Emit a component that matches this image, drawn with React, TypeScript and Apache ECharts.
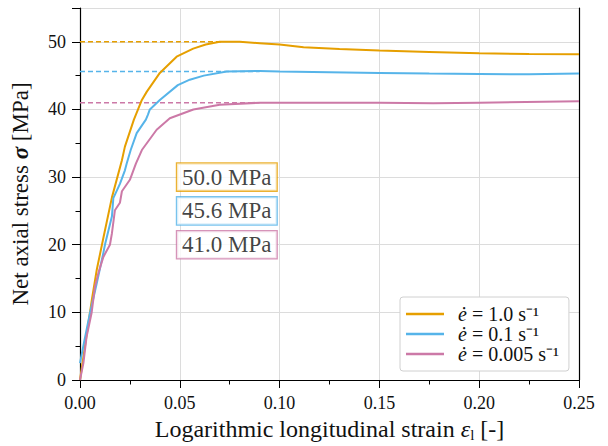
import React, { useEffect, useRef } from "react";
import * as echarts from "echarts";

const seriesNames = ["1.0", "0.1", "0.005"];
const colors = ["#E69F00", "#56B4E9", "#CC79A7"];
const peakStress = [50.0, 45.6, 41.0];
const peakStrain = [0.072, 0.09, 0.09];
const boxLabels = ["50.0 MPa", "45.6 MPa", "41.0 MPa"];
const boxY = [30, 25, 20];
const boxX = 0.0484;

const strainFast = [0, 0.002, 0.004, 0.006, 0.0084, 0.0117, 0.016, 0.021, 0.0225, 0.027, 0.031, 0.0334, 0.04, 0.0484, 0.0567, 0.063, 0.07, 0.08, 0.09, 0.1, 0.112, 0.13, 0.15, 0.175, 0.2, 0.225, 0.25];
const stressFast = [0, 4, 8, 12, 16.3, 21, 27, 32.5, 34.5, 38.5, 41.4, 42.6, 45.4, 47.8, 49.0, 49.6, 50.0, 50.0, 49.8, 49.6, 49.2, 48.95, 48.7, 48.5, 48.3, 48.2, 48.15];

const strainMid = [0, 0.002, 0.005, 0.0084, 0.0117, 0.0125, 0.016, 0.0167, 0.02, 0.0225, 0.0234, 0.0254, 0.0284, 0.033, 0.034, 0.035, 0.04, 0.049, 0.055, 0.062, 0.0735, 0.09, 0.1, 0.125, 0.15, 0.175, 0.2, 0.225, 0.25];
const stressMid = [2.5, 5.5, 9.9, 14.3, 18.8, 20, 24.2, 26.9, 29, 31, 32, 34, 36.5, 38.5, 39.2, 40, 41.4, 43.6, 44.4, 45, 45.6, 45.7, 45.6, 45.5, 45.4, 45.3, 45.25, 45.2, 45.3];

const strainSlow = [0, 0.0017, 0.0033, 0.0058, 0.0075, 0.0092, 0.0117, 0.015, 0.016, 0.0175, 0.02, 0.021, 0.025, 0.028, 0.031, 0.0384, 0.045, 0.0568, 0.07, 0.09, 0.125, 0.15, 0.177, 0.2, 0.25];
const stressSlow = [0, 2.5, 6.4, 9.9, 13.8, 15.8, 18.2, 20, 21.7, 25.1, 26.2, 27.9, 29.6, 32, 34, 37, 38.7, 40, 40.7, 41.0, 41.0, 41.0, 40.9, 41.0, 41.2];

const strains = [strainFast, strainMid, strainSlow];
const stresses = [stressFast, stressMid, stressSlow];

const FONT = "'Liberation Serif', 'Times New Roman', serif";

export default function App() {
  const ref = useRef<HTMLDivElement>(null);
  useEffect(() => {
    if (!ref.current) return;
    const chart = echarts.init(ref.current, null, { renderer: "svg" });
    const legendNames = seriesNames.map((s) => `ė = ${s} s⁻¹`);
    const series: any[] = [];
    peakStress.forEach((p, i) => {
      series.push({
        type: "line",
        name: "dash" + i,
        data: [[0, p], [peakStrain[i], p]],
        showSymbol: false,
        symbol: "none",
        lineStyle: { color: colors[i], width: 1.5, type: [5, 3] },
        z: 1,
        silent: true,
      });
    });
    strains.forEach((xs, i) => {
      series.push({
        type: "line",
        name: legendNames[i],
        data: xs.map((x, j) => [x, stresses[i][j]]),
        showSymbol: false,
        symbol: "none",
        lineStyle: { color: colors[i], width: 2 },
        itemStyle: { color: colors[i] },
        z: 3,
      });
    });
    boxLabels.forEach((t, i) => {
      series.push({
        type: "scatter",
        data: [[boxX, boxY[i]]],
        symbolSize: 1,
        itemStyle: { color: "rgba(0,0,0,0)" },
        silent: true,
        z: 5,
        label: {
          show: true,
          position: "right",
          distance: 0,
          formatter: t,
          fontFamily: FONT,
          fontSize: 23,
          color: "#111",
          backgroundColor: "#fff",
          borderColor: colors[i],
          borderWidth: 1.3,
          padding: [3, 5, 1, 5],
        },
      });
    });

    chart.setOption({
      animation: false,
      textStyle: { fontFamily: FONT },
      grid: { left: 80, right: 29, top: 8, bottom: 66, outerBoundsMode: "none", containLabel: false },
      legend: {
        data: legendNames,
        orient: "vertical",
        left: 400,
        top: 297,
        icon: "rect",
        itemWidth: 38,
        itemHeight: 2.5,
        itemGap: 0,
        padding: [7, 10, 7, 6],
        backgroundColor: "#fff",
        borderColor: "#d0d0d0",
        borderWidth: 1,
        borderRadius: 3,
        formatter: (n: string) => `{i|ė}{t|${n.slice(1)}}`,
        textStyle: {
          fontFamily: FONT,
          fontSize: 20,
          color: "#111",
          rich: {
            i: { fontFamily: FONT, fontSize: 20, fontStyle: "italic", color: "#111", lineHeight: 19.6, padding: [0, 0, 0, 9] },
            t: { fontFamily: FONT, fontSize: 20, color: "#111", lineHeight: 19.6 },
          },
        },
      },
      xAxis: {
        type: "value",
        min: 0,
        max: 0.25,
        interval: 0.05,
        name: "Logarithmic longitudinal strain {i|ε}{s|l} [-]",
        nameLocation: "middle",
        nameGap: 36,
        nameTextStyle: {
          fontFamily: FONT,
          fontSize: 24,
          color: "#111",
          rich: {
            i: { fontFamily: FONT, fontSize: 24, fontStyle: "italic", color: "#111" },
            s: { fontFamily: FONT, fontSize: 15, color: "#111", padding: [11, 0, 0, 0] },
          },
        },
        axisLine: { show: true, lineStyle: { color: "#000", width: 1.2 } },
        axisTick: { show: true, length: 8, lineStyle: { color: "#000" } },
        minorTick: { show: true, splitNumber: 2, length: 4.5, lineStyle: { color: "#000" } },
        axisLabel: {
          fontFamily: FONT,
          fontSize: 18,
          color: "#111",
          margin: 14,
          formatter: (v: number) => v.toFixed(2),
        },
        splitLine: { show: true, lineStyle: { color: "#dcdcdc", width: 1 } },
      },
      yAxis: [
        {
          type: "value",
          min: 0,
          max: 55,
          interval: 10,
          name: "Net axial stress {b|σ} [MPa]",
          nameLocation: "middle",
          nameGap: 48,
          nameTextStyle: {
            fontFamily: FONT,
            fontSize: 23,
            color: "#111",
            rich: {
              b: { fontFamily: FONT, fontSize: 23, fontStyle: "italic", fontWeight: "bold", color: "#111" },
            },
          },
          axisLine: { show: true, lineStyle: { color: "#000", width: 1.2 } },
          axisTick: { show: true, length: 8, lineStyle: { color: "#000" } },
          minorTick: { show: true, splitNumber: 2, length: 4.5, lineStyle: { color: "#000" } },
          axisLabel: {
            fontFamily: FONT,
            fontSize: 18,
            color: "#111",
            margin: 14,
            showMaxLabel: false,
            formatter: (v: number) => (v > 50 ? "" : String(v)),
          },
          splitLine: { show: true, lineStyle: { color: "#dcdcdc", width: 1 } },
        },
        {
          type: "value",
          position: "right",
          min: 0,
          max: 55,
          axisLine: { show: true, onZero: false, lineStyle: { color: "#000", width: 1.2 } },
          axisTick: { show: false },
          axisLabel: { show: false },
          splitLine: { show: false },
        },
      ],
      series,
    });
    return () => chart.dispose();
  }, []);
  return <div ref={ref} style={{ width: 608, height: 446, position: "absolute", left: 0, top: 0 }} />;
}
